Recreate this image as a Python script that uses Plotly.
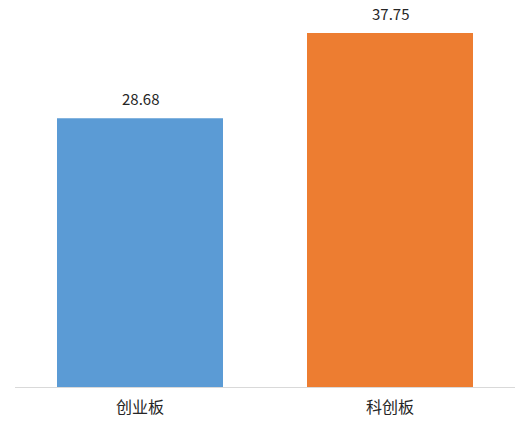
import plotly.graph_objects as go

categories = ["创业板", "科创板"]
values = [28.68, 37.75]
colors = ["#5B9BD5", "#ED7D31"]

fig = go.Figure()
fig.add_trace(go.Bar(x=categories, y=values, marker=dict(color=colors, line=dict(width=0)),
                     showlegend=False, hoverinfo="skip"))

# value labels above the bars
for c, v in zip(categories, values):
    fig.add_annotation(x=c, y=v, text=f"{v:.2f}", showarrow=False, yanchor="bottom", yshift=8,
                       borderpad=0,
                       font=dict(size=15, color="#262626", family="Noto Sans CJK SC, sans-serif"))

fig.update_layout(
    width=532, height=444,
    margin=dict(l=15, r=17, t=12, b=57),
    paper_bgcolor="white", plot_bgcolor="white",
    bargap=0.336,
    font=dict(family="Noto Sans CJK SC, sans-serif", size=14, color="#262626"),
)
fig.update_xaxes(showline=True, linecolor="#D9D9D9", linewidth=1, ticks="",
                 tickfont=dict(size=16), ticklabelstandoff=6)
fig.update_yaxes(range=[0, 40], visible=False, showgrid=False)

# drop the default page margin so the figure sits at the window corner
fig.write_html("out.html", config={"displayModeBar": False},
               post_script="document.body.style.margin='0';")
